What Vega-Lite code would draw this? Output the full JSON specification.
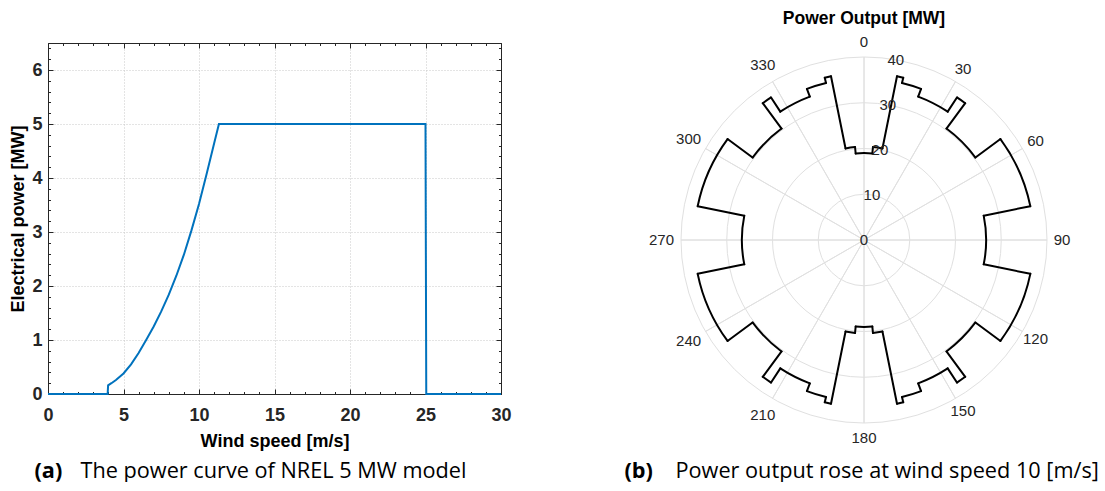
{
  "$schema": "https://vega.github.io/schema/vega-lite/v6.json",
  "background": "white",
  "padding": {"left": 9, "top": 10, "right": 0, "bottom": 0},
  "config": {
    "view": {"stroke": null},
    "font": "Liberation Sans"
  },
  "datasets": {
    "curve": [
      {"ws": 0, "p": 0}, {"ws": 3.95, "p": 0}, {"ws": 3.98, "p": 0.16}, {"ws": 4.2, "p": 0.2},
      {"ws": 4.5, "p": 0.26}, {"ws": 5, "p": 0.38}, {"ws": 5.5, "p": 0.55}, {"ws": 6, "p": 0.76},
      {"ws": 6.5, "p": 1.0}, {"ws": 7, "p": 1.25}, {"ws": 7.5, "p": 1.53}, {"ws": 8, "p": 1.84},
      {"ws": 8.5, "p": 2.19}, {"ws": 9, "p": 2.58}, {"ws": 9.5, "p": 3.03}, {"ws": 10, "p": 3.52},
      {"ws": 10.5, "p": 4.07}, {"ws": 11, "p": 4.64}, {"ws": 11.32, "p": 5.0}, {"ws": 25, "p": 5.0},
      {"ws": 25.05, "p": 0}, {"ws": 30, "p": 0}
    ],
    "rose": [
      {"a0": 0, "a1": 5.5, "p": 19.0, "prev": 19.0},
      {"a0": 5.5, "a1": 11.4, "p": 20.4, "prev": 19.0},
      {"a0": 11.4, "a1": 13.6, "p": 36.5, "prev": 20.4},
      {"a0": 13.6, "a1": 20.7, "p": 35.3, "prev": 36.5},
      {"a0": 20.7, "a1": 33.1, "p": 33.5, "prev": 35.3},
      {"a0": 33.1, "a1": 36.5, "p": 37.2, "prev": 33.5},
      {"a0": 36.5, "a1": 53.5, "p": 30.3, "prev": 37.2},
      {"a0": 53.5, "a1": 78.5, "p": 37.1, "prev": 30.3},
      {"a0": 78.5, "a1": 101.5, "p": 26.7, "prev": 37.1},
      {"a0": 101.5, "a1": 126.5, "p": 37.1, "prev": 26.7},
      {"a0": 126.5, "a1": 143.5, "p": 30.3, "prev": 37.1},
      {"a0": 143.5, "a1": 146.9, "p": 37.2, "prev": 30.3},
      {"a0": 146.9, "a1": 159.3, "p": 33.5, "prev": 37.2},
      {"a0": 159.3, "a1": 166.4, "p": 35.3, "prev": 33.5},
      {"a0": 166.4, "a1": 168.6, "p": 36.5, "prev": 35.3},
      {"a0": 168.6, "a1": 174.5, "p": 20.4, "prev": 36.5},
      {"a0": 174.5, "a1": 185.5, "p": 19.0, "prev": 20.4},
      {"a0": 185.5, "a1": 191.4, "p": 20.4, "prev": 19.0},
      {"a0": 191.4, "a1": 193.6, "p": 36.5, "prev": 20.4},
      {"a0": 193.6, "a1": 200.7, "p": 35.3, "prev": 36.5},
      {"a0": 200.7, "a1": 213.1, "p": 33.5, "prev": 35.3},
      {"a0": 213.1, "a1": 216.5, "p": 37.2, "prev": 33.5},
      {"a0": 216.5, "a1": 233.5, "p": 30.3, "prev": 37.2},
      {"a0": 233.5, "a1": 258.5, "p": 37.1, "prev": 30.3},
      {"a0": 258.5, "a1": 281.5, "p": 26.7, "prev": 37.1},
      {"a0": 281.5, "a1": 306.5, "p": 37.1, "prev": 26.7},
      {"a0": 306.5, "a1": 323.5, "p": 30.3, "prev": 37.1},
      {"a0": 323.5, "a1": 326.9, "p": 37.2, "prev": 30.3},
      {"a0": 326.9, "a1": 339.3, "p": 33.5, "prev": 37.2},
      {"a0": 339.3, "a1": 346.4, "p": 35.3, "prev": 33.5},
      {"a0": 346.4, "a1": 348.6, "p": 36.5, "prev": 35.3},
      {"a0": 348.6, "a1": 354.5, "p": 20.4, "prev": 36.5},
      {"a0": 354.5, "a1": 360, "p": 19.0, "prev": 20.4}
    ]
  },
  "spacing": 112,
  "hconcat": [
    {
      "width": 453,
      "height": 351,
      "data": {"name": "curve"},
      "layer": [
        {
          "mark": {"type": "line", "color": "#0072BD", "strokeWidth": 2},
          "encoding": {
            "x": {
              "field": "ws", "type": "quantitative",
              "scale": {"domain": [0, 30], "nice": false, "zero": false},
              "axis": {
                "orient": "bottom", "values": [0, 5, 10, 15, 20, 25, 30],
                "title": "Wind speed [m/s]", "grid": true, "gridDash": [1, 2],
                "gridColor": "#c8c8c8", "tickSize": -5, "tickColor": "#262626",
                "domainColor": "#262626", "labelFont": "Liberation Sans", "labelFontSize": 18,
                "labelFontWeight": "bold", "labelColor": "#262626", "labelPadding": 17,
                "labelFlush": false, "titleFont": "Liberation Sans", "titleFontSize": 18,
                "titleFontWeight": "bold", "titleColor": "#000", "titlePadding": 8
              }
            },
            "y": {
              "field": "p", "type": "quantitative",
              "scale": {"domain": [0, 6.5], "nice": false},
              "axis": {
                "orient": "left", "values": [0, 1, 2, 3, 4, 5, 6],
                "title": "Electrical power [MW]", "grid": true, "gridDash": [1, 2],
                "gridColor": "#c8c8c8", "tickSize": -5, "tickColor": "#262626",
                "domainColor": "#262626", "labelFont": "Liberation Sans", "labelFontSize": 18,
                "labelFontWeight": "bold", "labelColor": "#262626", "labelPadding": 11,
                "labelFlush": false, "titleFont": "Liberation Sans", "titleFontSize": 18,
                "titleFontWeight": "bold", "titleColor": "#000", "titlePadding": 4
              }
            }
          }
        },
        {
          "mark": {"type": "line", "opacity": 0},
          "encoding": {
            "x": {
              "field": "ws", "type": "quantitative",
              "axis": {
                "orient": "bottom", "values": [0,1,2,3,4,5,6,7,8,9,10,11,12,13,14,15,16,17,18,19,20,21,22,23,24,25,26,27,28,29,30],
                "labels": false, "domain": false, "grid": false, "title": null,
                "tickSize": -2.5, "tickColor": "#262626"
              }
            },
            "y": {
              "field": "p", "type": "quantitative",
              "axis": {
                "orient": "left", "values": [0,0.2,0.4,0.6,0.8,1,1.2,1.4,1.6,1.8,2,2.2,2.4,2.6,2.8,3,3.2,3.4,3.6,3.8,4,4.2,4.4,4.6,4.8,5,5.2,5.4,5.6,5.8,6,6.2,6.4],
                "labels": false, "domain": false, "grid": false, "title": null,
                "tickSize": -2.5, "tickColor": "#262626"
              }
            }
          }
        },
        {
          "mark": {"type": "line", "opacity": 0},
          "encoding": {
            "x": {
              "field": "ws", "type": "quantitative",
              "axis": {
                "orient": "top", "values": [0, 5, 10, 15, 20, 25, 30],
                "labels": false, "grid": false, "title": null,
                "tickSize": -5, "tickColor": "#262626", "domainColor": "#262626"
              }
            },
            "y": {
              "field": "p", "type": "quantitative",
              "axis": {
                "orient": "right", "values": [0, 1, 2, 3, 4, 5, 6],
                "labels": false, "grid": false, "title": null,
                "tickSize": -5, "tickColor": "#262626", "domainColor": "#262626"
              }
            }
          }
        },
        {
          "mark": {"type": "line", "opacity": 0},
          "encoding": {
            "x": {
              "field": "ws", "type": "quantitative",
              "axis": {
                "orient": "top", "values": [0,1,2,3,4,5,6,7,8,9,10,11,12,13,14,15,16,17,18,19,20,21,22,23,24,25,26,27,28,29,30],
                "labels": false, "domain": false, "grid": false, "title": null,
                "tickSize": -2.5, "tickColor": "#262626"
              }
            },
            "y": {
              "field": "p", "type": "quantitative",
              "axis": {
                "orient": "right", "values": [0,0.2,0.4,0.6,0.8,1,1.2,1.4,1.6,1.8,2,2.2,2.4,2.6,2.8,3,3.2,3.4,3.6,3.8,4,4.2,4.4,4.6,4.8,5,5.2,5.4,5.6,5.8,6,6.2,6.4],
                "labels": false, "domain": false, "grid": false, "title": null,
                "tickSize": -2.5, "tickColor": "#262626"
              }
            }
          }
        },
        {
          "mark": {"type": "line", "opacity": 0},
          "encoding": {
            "x": {
              "field": "ws", "type": "quantitative",
              "axis": {
                "orient": "bottom", "labels": false, "ticks": false, "domain": false, "grid": false,
                "title": "(a)", "titleFont": "Open Sans", "titleFontSize": 21.7, "titleFontWeight": "bold",
                "titleColor": "#000", "titleX": -14, "titleY": 83, "titleAlign": "left",
                "titleBaseline": "alphabetic", "titleAnchor": "start"
              }
            },
            "y": {
              "field": "p", "type": "quantitative",
              "axis": {
                "orient": "left", "labels": false, "ticks": false, "domain": false, "grid": false,
                "title": "The power curve of NREL 5 MW model", "titleFont": "Open Sans",
                "titleFontSize": 21.7, "titleFontWeight": "normal", "titleColor": "#000",
                "titleAngle": 0, "titleX": 32, "titleY": 434, "titleAlign": "left",
                "titleBaseline": "alphabetic"
              }
            }
          }
        }
      ],
      "resolve": {"axis": {"x": "independent", "y": "independent"}}
    },
    {
      "width": 394,
      "height": 394,
      "layer": [
        {
          "data": {"values": [{"r": 10}, {"r": 20}, {"r": 30}, {"r": 40}]},
          "mark": {"type": "arc", "theta": 0, "theta2": 6.2832, "filled": false, "stroke": "#e0e0e0", "strokeWidth": 1},
          "encoding": {
            "radius": {"field": "r", "type": "quantitative", "stack": null, "scale": {"type": "linear", "domain": [0, 40], "range": [0, 183], "zero": true}}
          }
        },
        {
          "data": {"values": [{"a": 0}, {"a": 30}, {"a": 60}, {"a": 90}, {"a": 120}, {"a": 150}, {"a": 180}, {"a": 210}, {"a": 240}, {"a": 270}, {"a": 300}, {"a": 330}]},
          "mark": {"type": "arc", "filled": false, "stroke": "#e0e0e0", "strokeWidth": 1, "radius2": 0},
          "encoding": {
            "theta": {"field": "a", "type": "quantitative", "stack": null, "scale": {"type": "linear", "domain": [0, 360], "range": [0, 6.283185307179586]}},
            "theta2": {"field": "a"},
            "radius": {"datum": 40, "type": "quantitative", "stack": null}
          }
        },
        {
          "data": {"values": [
            {"deg": 0, "t": "0"}, {"deg": 30, "t": "30"}, {"deg": 60, "t": "60"}, {"deg": 90, "t": "90"},
            {"deg": 120, "t": "120"}, {"deg": 150, "t": "150"}, {"deg": 180, "t": "180"}
          ]},
          "mark": {"type": "text", "font": "Liberation Sans", "fontSize": 15, "color": "#262626", "radiusOffset": 15},
          "encoding": {
            "theta": {"field": "deg", "type": "quantitative", "stack": null},
            "radius": {"datum": 40, "type": "quantitative", "stack": null},
            "text": {"field": "t"}
          }
        },
        {
          "data": {"values": [
            {"deg": 210, "t": "210"}, {"deg": 240, "t": "240"}, {"deg": 270, "t": "270"},
            {"deg": 300, "t": "300"}, {"deg": 330, "t": "330"}
          ]},
          "mark": {"type": "text", "font": "Liberation Sans", "fontSize": 15, "color": "#262626", "radiusOffset": 19.5},
          "encoding": {
            "theta": {"field": "deg", "type": "quantitative", "stack": null},
            "radius": {"datum": 40, "type": "quantitative", "stack": null},
            "text": {"field": "t"}
          }
        },
        {
          "data": {"values": [{"t": "Power Output [MW]"}]},
          "mark": {"type": "text", "font": "Liberation Sans", "fontSize": 17.5, "fontWeight": "bold", "color": "#000", "radiusOffset": 38},
          "encoding": {
            "theta": {"datum": 0, "type": "quantitative", "stack": null},
            "radius": {"datum": 40, "type": "quantitative", "stack": null},
            "text": {"field": "t"}
          }
        },
        {
          "data": {"name": "rose"},
          "mark": {"type": "arc", "filled": false, "stroke": "#000", "strokeWidth": 2, "strokeJoin": "round"},
          "encoding": {
            "theta": {"field": "a0", "type": "quantitative", "stack": null},
            "theta2": {"field": "a1"},
            "radius": {"field": "p", "type": "quantitative", "stack": null},
            "radius2": {"field": "p"}
          }
        },
        {
          "data": {"name": "rose"},
          "mark": {"type": "arc", "filled": false, "stroke": "#000", "strokeWidth": 2, "strokeJoin": "round"},
          "encoding": {
            "theta": {"field": "a0", "type": "quantitative", "stack": null},
            "theta2": {"field": "a0"},
            "radius": {"field": "prev", "type": "quantitative", "stack": null},
            "radius2": {"field": "p"}
          }
        },
        {
          "data": {"values": [{"v": 0}, {"v": 10}, {"v": 20}, {"v": 30}, {"v": 40}]},
          "mark": {"type": "text", "font": "Liberation Sans", "fontSize": 15, "color": "#262626"},
          "encoding": {
            "theta": {"datum": 10, "type": "quantitative", "stack": null},
            "radius": {"field": "v", "type": "quantitative", "stack": null},
            "text": {"field": "v", "type": "quantitative"}
          }
        },
        {
          "data": {"values": [{"u": 0}]},
          "mark": {"type": "point", "opacity": 0},
          "encoding": {
            "x": {
              "field": "u", "type": "quantitative",
              "axis": {
                "orient": "bottom", "labels": false, "ticks": false, "domain": false, "grid": false,
                "title": "(b)", "titleFont": "Open Sans", "titleFontSize": 21.7, "titleFontWeight": "bold",
                "titleColor": "#000", "titleX": -43, "titleY": 40, "titleAlign": "left",
                "titleBaseline": "alphabetic", "titleAnchor": "start"
              }
            },
            "y": {
              "field": "u", "type": "quantitative",
              "axis": {
                "orient": "left", "labels": false, "ticks": false, "domain": false, "grid": false,
                "title": "Power output rose at wind speed 10 [m/s]", "titleFont": "Open Sans",
                "titleFontSize": 21.7, "titleFontWeight": "normal", "titleColor": "#000",
                "titleAngle": 0, "titleX": 8, "titleY": 434, "titleAlign": "left",
                "titleBaseline": "alphabetic"
              }
            }
          }
        }
      ]
    }
  ]
}
